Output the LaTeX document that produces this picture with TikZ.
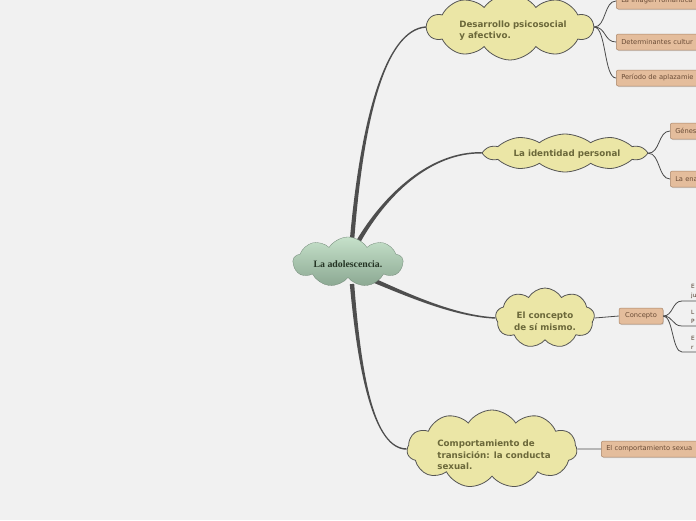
\documentclass[tikz,border=0pt]{standalone}
\usepackage{fontspec}
\setmainfont{DejaVu Sans}
\newfontfamily\serifb{Liberation Serif}
\usetikzlibrary{shapes.symbols,calc,shadows}
\definecolor{bgcol}{HTML}{F1F1F1}
\definecolor{linkcol}{HTML}{4E4E4E}
\definecolor{thincol}{HTML}{4A4A4A}
\definecolor{cloudfill}{HTML}{EBE6A6}
\definecolor{cloudtext}{HTML}{6B683A}
\definecolor{cloudline}{HTML}{555555}
\definecolor{ctop}{HTML}{C6E1CA}
\definecolor{cbot}{HTML}{8BA892}
\definecolor{ctext}{HTML}{243324}
\definecolor{leaffill}{HTML}{E4BD9C}
\definecolor{leafline}{HTML}{A88468}
\definecolor{leaftext}{HTML}{6A4C36}
\pgfdeclarelayer{bglayer}
\pgfdeclarelayer{links}
\pgfsetlayers{bglayer,links,main}
\newcommand{\taper}[4]{%
  \fill[linkcol] ($(#1)!2.2pt!90:(#2)$) .. controls ($(#2)!1.5pt!-90:(#1)$) and ($(#3)!0.9pt!90:(#4)$) .. ($(#4)!0.7pt!-90:(#3)$)
    -- ($(#4)!0.7pt!90:(#3)$) .. controls ($(#3)!0.9pt!-90:(#4)$) and ($(#2)!1.5pt!90:(#1)$) .. ($(#1)!2.2pt!-90:(#2)$) -- cycle;}
\begin{document}
\begin{tikzpicture}[x=1pt,y=-1pt,
  cloudy/.style={cloud, cloud ignores aspect, draw=cloudline, line width=0.8pt, fill=cloudfill, inner sep=0pt},
  cloudlabel/.style={text=cloudtext, font=\bfseries\fontsize{8.7}{11.5}\selectfont, align=left, inner sep=0pt},
  centre/.style={cloud, cloud ignores aspect, draw=cbot!80!black, line width=0.3pt, top color=ctop, bottom color=cbot,
    inner sep=0pt, minimum width=110pt, minimum height=50pt, cloud puffs=9, cloud puff arc=115},
  centrelabel/.style={text=ctext, font=\serifb\bfseries\fontsize{9.8}{11}\selectfont, inner sep=0pt},
  leaf/.style={draw=leafline, fill=leaffill, rounded corners=2pt, line width=0.5pt,
    font=\fontsize{6.7}{8}\selectfont, text=leaftext, minimum height=16pt, anchor=west,
    align=left, inner xsep=5pt, inner ysep=0pt,
    drop shadow={opacity=0.25, shadow xshift=0.8pt, shadow yshift=-1pt}},
  frag/.style={font=\fontsize{5.8}{9}\selectfont, text=leaftext!70!black, anchor=south west, align=left,
    text width=30pt, inner xsep=9pt, inner ysep=2pt},
  thin/.style={draw=thincol, line width=0.8pt}]
\begin{pgfonlayer}{bglayer}
\fill[bgcol] (0,0) rectangle (696,520);
\end{pgfonlayer}
\useasboundingbox (0,0) rectangle (696,520);
\clip (0,0) rectangle (696,520);

% central
\node[centre] (c) at (348,262) {};
\node[centrelabel] (c-label) at ($(c)+(0,2.5)$) {La adolescencia.};

% main topics
\node[cloudy, minimum width=166pt, minimum height=66pt, cloud puffs=10, cloud puff arc=110] (d) at (510,27) {};
\node[cloudlabel] (d-label) at ($(d)+(3,3.5)$) {Desarrollo psicosocial\\y afectivo.};
\node[cloudy, minimum width=160pt, minimum height=38pt, cloud puffs=10, cloud puff arc=75] (i) at (565,153) {};
\node[cloudlabel] (i-label) at ($(i)+(2,1)$) {La identidad personal};
\node[cloudy, minimum width=99pt, minimum height=60pt, cloud puffs=9, cloud puff arc=120] (s) at (545,318) {};
\node[cloudlabel, align=center] (s-label) at ($(s)+(0,3)$) {El concepto\\de sí mismo.};
\node[cloudy, minimum width=170pt, minimum height=78pt, cloud puffs=11, cloud puff arc=115] (t) at (492,449) {};
\node[cloudlabel] (t-label) at ($(t)+(2,6)$) {Comportamiento de\\transición: la conducta\\sexual.};

% leaves
\node[leaf, text width=110pt] (b1) at (616,1) {La imagen romántica};
\node[leaf, text width=110pt] (b2) at (616,42) {Determinantes cultur};
\node[leaf, text width=110pt] (b3) at (616,78) {Período de aplazamie};
\node[leaf, text width=60pt] (g1) at (670,131) {Génes};
\node[leaf, text width=60pt] (g2) at (670,179) {La ena};
\node[leaf, anchor=center, minimum width=44pt, inner xsep=3pt] (k) at (641,316) {Concepto};
\node[leaf, text width=130pt] (b7) at (601,449) {El comportamiento sexua};

\node[frag] (l1) at (682,301) {E\\ju};
\node[frag] (l2) at (682,326) {L\\P};
\node[frag] (l3) at (682,352) {E\\r};

% main connectors
\coordinate (cd0) at ($(c)+(4,-22)$);
\coordinate (ci0) at ($(c)+(10,-20)$);
\coordinate (cs0) at ($(c)+(27,19)$);
\coordinate (ct0) at ($(c)+(4,22)$);
\coordinate (cd1) at (362,120); \coordinate (cd2) at (385,30);
\coordinate (ci1) at (385,195); \coordinate (ci2) at (430,152);
\coordinate (cs1) at (410,296); \coordinate (cs2) at (455,316);
\coordinate (ct1) at (360,380); \coordinate (ct2) at (375,449);
\begin{pgfonlayer}{links}
\taper{cd0}{cd1}{cd2}{d.west}
\taper{ci0}{ci1}{ci2}{i.west}
\taper{cs0}{cs1}{cs2}{s.west}
\taper{ct0}{ct1}{ct2}{t.west}
\end{pgfonlayer}

% thin connectors
\draw[thin] (d.east) .. controls +(12,0) and +(-12,0) .. (b1.west);
\draw[thin] (d.east) .. controls +(12,0) and +(-12,0) .. (b2.west);
\draw[thin] (d.east) .. controls +(12,0) and +(-12,0) .. (b3.west);
\draw[thin] (i.east) .. controls +(12,0) and +(-12,0) .. (g1.west);
\draw[thin] (i.east) .. controls +(12,0) and +(-12,0) .. (g2.west);
\draw[thin] (s.east) -- (k.west);
\draw[thin] (t.east) -- (b7.west);
\draw[thin] (k.east) .. controls +(10,0) and +(-10,0) .. (l1.south west) -- (l1.south east);
\draw[thin] (k.east) .. controls +(10,0) and +(-10,0) .. (l2.south west) -- (l2.south east);
\draw[thin] (k.east) .. controls +(10,0) and +(-10,0) .. (l3.south west) -- (l3.south east);
\end{tikzpicture}
\end{document}
